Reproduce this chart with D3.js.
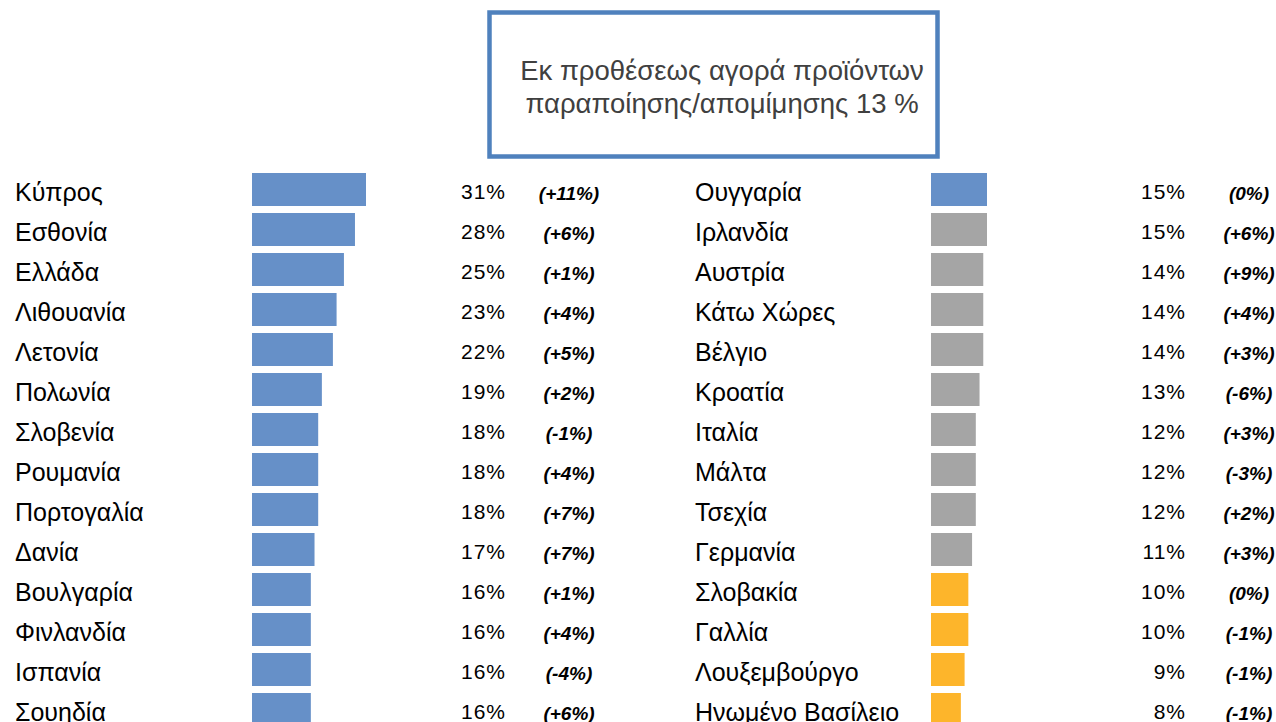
<!DOCTYPE html>
<html>
<head>
<meta charset="utf-8">
<script src="https://cdn.jsdelivr.net/npm/d3@7"></script>
<style>
  html, body { margin: 0; padding: 0; background: #fff; }
  svg { display: block; font-family: "Liberation Sans", Arial, sans-serif; }
</style>
</head>
<body>
<div id="chart"></div>
<script>
const titleLines = ["Εκ προθέσεως αγορά προϊόντων", "παραποίησης/απομίμησης 13 %"];

// left column
const leftCountries = ["Κύπρος", "Εσθονία", "Ελλάδα", "Λιθουανία", "Λετονία", "Πολωνία", "Σλοβενία",
    "Ρουμανία", "Πορτογαλία", "Δανία", "Βουλγαρία", "Φινλανδία", "Ισπανία", "Σουηδία"];
const leftValues = [31, 28, 25, 23, 22, 19, 18, 18, 18, 17, 16, 16, 16, 16];
const leftChanges = ["(+11%)", "(+6%)", "(+1%)", "(+4%)", "(+5%)", "(+2%)", "(-1%)",
    "(+4%)", "(+7%)", "(+7%)", "(+1%)", "(+4%)", "(-4%)", "(+6%)"];
const leftGroups = leftCountries.map(() => "above");

// right column
const rightCountries = ["Ουγγαρία", "Ιρλανδία", "Αυστρία", "Κάτω Χώρες", "Βέλγιο", "Κροατία", "Ιταλία",
    "Μάλτα", "Τσεχία", "Γερμανία", "Σλοβακία", "Γαλλία", "Λουξεμβούργο", "Ηνωμένο Βασίλειο"];
const rightValues = [15, 15, 14, 14, 14, 13, 12, 12, 12, 11, 10, 10, 9, 8];
const rightChanges = ["(0%)", "(+6%)", "(+9%)", "(+4%)", "(+3%)", "(-6%)", "(+3%)",
    "(-3%)", "(+2%)", "(+3%)", "(0%)", "(-1%)", "(-1%)", "(-1%)"];
const rightGroups = ["above", "avg", "avg", "avg", "avg", "avg", "avg",
    "avg", "avg", "avg", "below", "below", "below", "below"];

const width = 1276, height = 722;

const color = d3.scaleOrdinal()
    .domain(["above", "avg", "below"])
    .range(["#6690c8", "#a5a5a5", "#fdb52b"]);

const svg = d3.select("#chart")
    .append("svg")
    .attr("width", width)
    .attr("height", height);

// title box
svg.append("rect")
    .attr("x", 489.5).attr("y", 12.5)
    .attr("width", 448).attr("height", 144)
    .attr("fill", "#fff")
    .attr("stroke", "#4f81bd")
    .attr("stroke-width", 4.5);

svg.append("g").selectAll("text")
    .data(titleLines)
    .join("text")
    .attr("x", 722)
    .attr("y", (d, i) => 80 + i * 33)
    .attr("text-anchor", "middle")
    .attr("fill", "#404040")
    .style("font-size", "27.5px")
    .text(d => d);

const y = d3.scaleBand()
    .domain(d3.range(leftCountries.length))
    .range([169.5, 729.5])
    .paddingInner(0.175)
    .paddingOuter(0.0875);

function drawColumn(countries, values, changes, groups, opt) {
    const x = d3.scaleLinear().domain(opt.domain).range(opt.range);
    const rows = countries.map((c, i) => ({ c, v: values[i], ch: changes[i], g: groups[i], i }));
    const g = svg.append("g");

    g.selectAll(".lbl")
        .data(rows)
        .join("text")
        .attr("class", "lbl")
        .attr("x", opt.labelX)
        .attr("y", d => y(d.i) + y.bandwidth() / 2 + 11)
        .attr("fill", "#000")
        .style("font-size", "25px")
        .text(d => d.c);

    g.selectAll("rect")
        .data(rows)
        .join("rect")
        .attr("x", x(0))
        .attr("y", d => y(d.i))
        .attr("width", d => x(d.v) - x(0))
        .attr("height", y.bandwidth())
        .attr("fill", d => color(d.g));

    g.selectAll(".val")
        .data(rows)
        .join("text")
        .attr("class", "val")
        .attr("x", opt.valueX)
        .attr("y", d => y(d.i) + y.bandwidth() / 2 + 9)
        .attr("text-anchor", "end")
        .attr("fill", "#000")
        .style("font-size", "21px")
        .style("letter-spacing", "1px")
        .text(d => d.v + "%");

    g.selectAll(".chg")
        .data(rows)
        .join("text")
        .attr("class", "chg")
        .attr("x", opt.changeX)
        .attr("y", d => y(d.i) + y.bandwidth() / 2 + 10)
        .attr("text-anchor", "middle")
        .attr("fill", "#000")
        .style("font-size", "19px")
        .style("font-weight", "bold")
        .style("font-style", "italic")
        .text(d => d.ch);
}

drawColumn(leftCountries, leftValues, leftChanges, leftGroups,
    { domain: [0, 31], range: [252, 366], labelX: 15, valueX: 506, changeX: 569 });
drawColumn(rightCountries, rightValues, rightChanges, rightGroups,
    { domain: [0, 15], range: [931, 987], labelX: 695, valueX: 1186, changeX: 1249 });
</script>
</body>
</html>
